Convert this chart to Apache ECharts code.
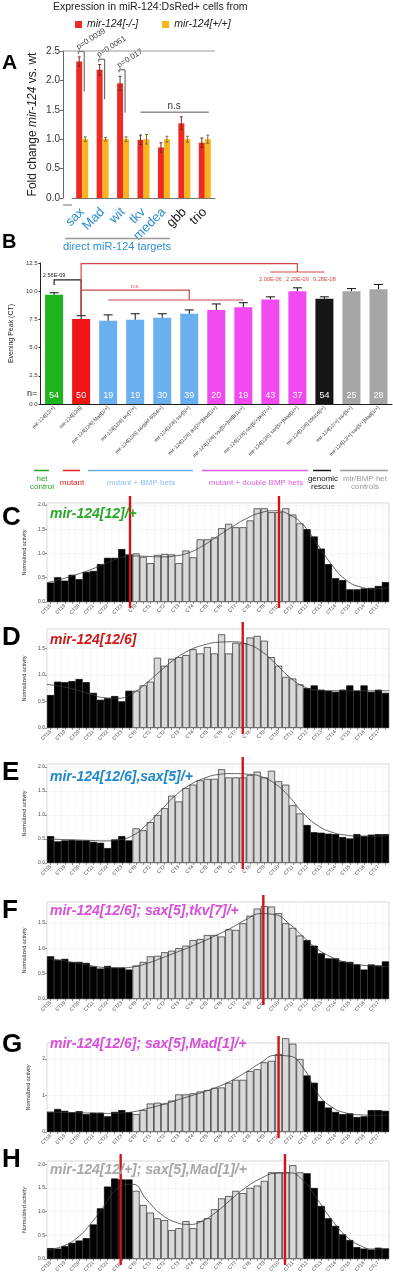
<!DOCTYPE html>
<html>
<head>
<meta charset="utf-8">
<script src="https://cdn.jsdelivr.net/npm/echarts@6/dist/echarts.min.js"></script>
<style>
html, body { margin: 0; padding: 0; background: #fff; }
#chart { width: 393px; height: 1280px; }
</style>
</head>
<body>
<div id="chart"></div>
<script>
// ---------- panel A: fold change of mir-124 targets ----------
const aGenes = ['sax', 'Mad', 'wit', 'tkv', 'medea', 'gbb', 'trio'];
const aTargets = ['sax', 'Mad', 'wit', 'tkv', 'medea'];
const aMutant = [2.32, 2.18, 1.95, 0.99, 0.86, 1.27, 0.94];
const aMutantErr = [0.08, 0.09, 0.12, 0.08, 0.08, 0.11, 0.08];
const aWild = [1.00, 1.00, 1.00, 1.00, 1.00, 1.00, 1.00];
const aWildErr = [0.04, 0.03, 0.04, 0.08, 0.05, 0.05, 0.07];
const aBrackets = [[0, 2.49, 1.81], [1, 2.36, 1.68], [2, 2.18, 1.45]];
const aPvals = ['p=0.0039', 'p=0.0061', 'p=0.017'];

// ---------- panel B: evening peak ----------
const bLabels = [
  'mir-124[12/+]', 'mir-124[12/6]', 'mir-124[12/6] Mad[1/+]', 'mir-124[12/6] tkv[7/+]',
  'mir-124[12/6] sax[def 6054/+]', 'mir-124[12/6] sax[5/+]', 'mir-124[12/6] tkv[7/+]Mad[1/+]',
  'mir-124[12/6] sax[5/+]wit[B11/+]', 'mir-124[12/6] sax[5/+]tkv[7/+]', 'mir-124[12/6] sax[5/+]Mad[1/+]',
  'mir-124[12/6] 39N16[/+]', 'mir-124[12/+] sax[5/+]', 'mir-124[12/+] sax[5/+]Mad[1/+]'
];
const bGroup = ['het', 'mut', 'bmp', 'bmp', 'bmp', 'bmp', 'dbl', 'dbl', 'dbl', 'dbl', 'res', 'ctl', 'ctl'];
const bPeak = [9.68, 7.53, 7.38, 7.47, 7.65, 8.00, 8.34, 8.57, 9.27, 10.00, 9.33, 10.00, 10.17];
const bErr = [0.18, 0.30, 0.52, 0.53, 0.35, 0.34, 0.53, 0.41, 0.23, 0.30, 0.17, 0.23, 0.43];
const bN = [54, 50, 19, 19, 30, 39, 20, 19, 43, 37, 54, 25, 28];
const bSigBlack = [[[0.04, 10.55], [0.04, 11.0], [0.93, 11.0], [0.93, 7.9]]];
const bSigRed = [
  [[1.08, 7.9], [1.08, 12.45], [9.0, 12.45], [9.0, 11.7]],
  [[7.68, 11.7], [10.2, 11.7]],
  [[1.08, 10.1], [4.52, 10.1], [4.52, 9.22]],
  [[1.72, 9.22], [7.33, 9.22]]
];
const bTextBlack = [['2.56E-09', 0.47, 11.44]];
const bTextRed = [['n.s.', 2.8, 10.45], ['2.00E-06', 7.95, 11.08], ['2.29E-09', 8.95, 11.08], ['9.28E-08', 10.05, 11.08]];

// ---------- panels C-H: activity histograms (48 half-hour bins) ----------
const ctLabels = ['CT18', 'CT19', 'CT20', 'CT21', 'CT22', 'CT23', 'CT0', 'CT1', 'CT2', 'CT3', 'CT4', 'CT5',
  'CT6', 'CT7', 'CT8', 'CT9', 'CT10', 'CT11', 'CT12', 'CT13', 'CT14', 'CT15', 'CT16', 'CT17'];
const curveX = [0, 2, 4, 6, 8, 10, 12, 14, 16, 18, 20, 22, 24, 26, 28, 30, 32, 34, 36, 38, 40, 42, 44, 46, 48];

const cBars = [0.40, 0.51, 0.44, 0.56, 0.47, 0.62, 0.64, 0.78, 0.91, 0.91, 1.09, 0.98,
  1.00, 0.93, 0.80, 0.97, 0.99, 0.98, 0.80, 1.06, 0.92, 1.29, 1.29, 1.33, 1.52, 1.61, 1.54, 1.54, 1.68, 1.93, 1.93, 1.85, 1.85, 1.93, 1.80, 1.62,
  1.50, 1.35, 1.10, 0.78, 0.49, 0.45, 0.26, 0.26, 0.28, 0.29, 0.33, 0.41];
const cCurve = [0.40, 0.47, 0.56, 0.66, 0.78, 0.90, 0.95, 0.94, 0.93, 0.95, 1.02, 1.17, 1.36,
  1.55, 1.72, 1.84, 1.88, 1.80, 1.58, 1.18, 0.76, 0.45, 0.31, 0.27, 0.30];
const cPeaks = [11.65, 32.56];

const dBars = [0.62, 0.87, 0.86, 0.88, 0.92, 0.86, 0.66, 0.53, 0.56, 0.60, 0.50, 0.70,
  0.70, 0.80, 0.87, 1.32, 1.17, 1.30, 1.33, 1.37, 1.48, 1.40, 1.52, 1.40, 1.76, 1.40, 1.60, 1.59, 1.70, 1.73, 1.64, 1.33, 1.17, 0.96, 0.93, 0.82,
  0.75, 0.80, 0.72, 0.70, 0.68, 0.72, 0.80, 0.70, 0.80, 0.68, 0.72, 0.66];
const dCurve = [0.82, 0.78, 0.72, 0.64, 0.57, 0.56, 0.65, 0.85, 1.08, 1.30, 1.46, 1.56, 1.61,
  1.62, 1.58, 1.45, 1.22, 0.96, 0.78, 0.71, 0.70, 0.70, 0.70, 0.70, 0.70];
const dPeaks = [27.47];

const eBars = [0.56, 0.45, 0.47, 0.48, 0.47, 0.47, 0.44, 0.42, 0.31, 0.49, 0.56, 0.47,
  0.72, 0.68, 0.85, 1.00, 1.14, 1.40, 1.28, 1.56, 1.63, 1.72, 1.75, 1.75, 1.95, 1.78, 1.78, 1.78, 1.83, 1.90, 1.78, 1.92, 1.70, 1.63, 1.20, 1.03,
  0.79, 0.64, 0.63, 0.61, 0.60, 0.54, 0.51, 0.60, 0.56, 0.59, 0.60, 0.60];
const eCurve = [0.50, 0.49, 0.48, 0.47, 0.46, 0.48, 0.57, 0.80, 1.10, 1.40, 1.62, 1.76, 1.84,
  1.86, 1.85, 1.80, 1.65, 1.38, 1.03, 0.78, 0.64, 0.58, 0.56, 0.56, 0.57];
const ePeaks = [27.47];

const fBars = [0.84, 0.77, 0.79, 0.73, 0.73, 0.71, 0.64, 0.60, 0.65, 0.62, 0.62, 0.58,
  0.66, 0.73, 0.84, 0.85, 0.92, 0.95, 1.00, 1.05, 1.16, 1.18, 1.26, 1.26, 1.23, 1.37, 1.36, 1.49, 1.64, 1.78, 1.83, 1.82, 1.69, 1.49, 1.40, 1.25,
  1.16, 1.05, 0.90, 0.80, 0.80, 0.74, 0.73, 0.68, 0.58, 0.68, 0.66, 0.74];
const fCurve = [0.80, 0.76, 0.71, 0.66, 0.62, 0.61, 0.63, 0.70, 0.80, 0.91, 1.02, 1.14, 1.27,
  1.41, 1.57, 1.68, 1.66, 1.48, 1.22, 0.98, 0.82, 0.72, 0.67, 0.65, 0.64];
const fPeaks = [30.36];

const gBars = [0.55, 0.63, 0.58, 0.54, 0.57, 0.49, 0.53, 0.53, 0.43, 0.55, 0.60, 0.54,
  0.49, 0.60, 0.78, 0.80, 0.78, 0.86, 1.03, 1.03, 1.06, 1.11, 1.15, 1.21, 1.22, 1.35, 1.43, 1.43, 1.67, 1.72, 1.91, 1.95, 2.14, 2.57, 2.42, 2.00,
  1.55, 1.35, 0.85, 0.67, 0.55, 0.49, 0.51, 0.41, 0.43, 0.60, 0.60, 0.58];
const gCurve = [0.55, 0.54, 0.53, 0.52, 0.51, 0.52, 0.55, 0.64, 0.74, 0.86, 0.98, 1.10, 1.24,
  1.42, 1.65, 1.90, 2.10, 2.08, 1.75, 1.05, 0.68, 0.52, 0.47, 0.46, 0.46];
const gPeaks = [32.5];

const hBars = [0.23, 0.22, 0.27, 0.34, 0.39, 0.44, 0.73, 1.07, 1.53, 1.70, 1.68, 1.68,
  1.44, 1.14, 0.98, 0.86, 0.82, 0.61, 0.65, 0.80, 0.65, 0.80, 0.86, 1.05, 1.28, 1.33, 1.44, 1.39, 1.50, 1.55, 1.65, 1.83, 1.83, 1.83, 1.98, 1.83,
  1.81, 1.50, 1.12, 0.86, 0.70, 0.52, 0.40, 0.25, 0.22, 0.20, 0.24, 0.22];
const hCurve = [0.19, 0.26, 0.42, 0.72, 1.12, 1.50, 1.58, 1.25, 0.95, 0.78, 0.73, 0.82, 1.02,
  1.28, 1.52, 1.70, 1.81, 1.82, 1.65, 1.25, 0.82, 0.48, 0.28, 0.21, 0.22];
const hPeaks = [10.34, 33.4];

const FONT = '"Liberation Sans", Arial, sans-serif';
const binLabels = ctLabels.flatMap(l => [l, '']);
const binIsDay = binLabels.map((l, i) => parseInt(ctLabels[Math.floor(i / 2)].slice(2), 10) < 12);

const groupColor = { het: '#1db41d', mut: '#f01414', bmp: '#6aaff0', dbl: '#f04af0', res: '#161616', ctl: '#a6a6a6' };

const grid = [];
const xAxis = [];
const yAxis = [];
const series = [];
const graphic = [];

function txt(x, y, text, size, color, extra) {
  graphic.push({
    type: 'text', x: x, y: y, z: 100,
    style: Object.assign({ text: text, fill: color, fontSize: size, fontFamily: FONT, verticalAlign: 'middle' }, extra || {})
  });
}
function hline(x1, x2, y, color, w) {
  graphic.push({ type: 'line', z: 100, shape: { x1: x1, y1: y, x2: x2, y2: y }, style: { stroke: color, lineWidth: w } });
}

// ===== panel A =====
grid.push({ left: 72, top: 51, width: 143, height: 147 });
xAxis.push({
  type: 'category', gridIndex: 0, data: aGenes, offset: 7,
  axisLine: { lineStyle: { color: '#777', width: 1 } },
  axisTick: { show: false },
  axisLabel: {
    rotate: 45, fontSize: 13, margin: 5, interval: 0, fontFamily: FONT,
    color: v => (aTargets.includes(v) ? '#2f8fd0' : '#222')
  }
});
yAxis.push({
  type: 'value', gridIndex: 0, min: 0, max: 2.5, interval: 0.5, offset: 9,
  axisLine: { show: true, lineStyle: { color: '#666' } },
  axisTick: { show: true, length: 3, lineStyle: { color: '#666' } },
  axisLabel: { fontSize: 10, color: '#333', margin: 3, fontFamily: FONT, formatter: v => v.toFixed(1) },
  splitLine: { show: false },
  name: 'Fold change {i|mir-124} vs. wt', nameLocation: 'middle', nameGap: 24,
  nameTextStyle: { fontSize: 12, color: '#222', fontFamily: FONT, rich: { i: { fontSize: 12, fontStyle: 'italic', color: '#222', fontFamily: FONT } } }
});
series.push({
  type: 'bar', name: 'mir-124[-/-]', xAxisIndex: 0, yAxisIndex: 0, data: aMutant,
  barWidth: 6, barGap: '0%', itemStyle: { color: '#ee2a24' }
});
series.push({
  type: 'bar', name: 'mir-124[+/+]', xAxisIndex: 0, yAxisIndex: 0, data: aWild,
  barWidth: 6, barGap: '0%', itemStyle: { color: '#f8b51c' }
});
function errSeries(xi, yi, vals, errs, off, cap, color, both) {
  return {
    type: 'custom', xAxisIndex: xi, yAxisIndex: yi, z: 5,
    data: vals.map((v, i) => [i, v, errs[i]]),
    renderItem: (params, api) => {
      const i = api.value(0), v = api.value(1), e = api.value(2);
      const top = api.coord([i, v + e]);
      const bot = api.coord([i, both ? v - e : v]);
      const x = top[0] + off;
      const st = { stroke: color, lineWidth: 1 };
      const kids = [
        { type: 'line', shape: { x1: x, y1: top[1], x2: x, y2: bot[1] }, style: st },
        { type: 'line', shape: { x1: x - cap / 2, y1: top[1], x2: x + cap / 2, y2: top[1] }, style: st }
      ];
      if (both) kids.push({ type: 'line', shape: { x1: x - cap / 2, y1: bot[1], x2: x + cap / 2, y2: bot[1] }, style: st });
      return { type: 'group', children: kids };
    }
  };
}
series.push(errSeries(0, 0, aMutant, aMutantErr, -3, 3, '#7a2b22', true));
series.push(errSeries(0, 0, aWild, aWildErr, 3, 3, '#8a6a20', true));
series.push({
  type: 'custom', xAxisIndex: 0, yAxisIndex: 0, z: 6,
  data: aBrackets,
  renderItem: (params, api) => {
    const i = api.value(0);
    const t = api.coord([i, api.value(1)]);
    const e = api.coord([i, api.value(2)]);
    const xl = t[0] - 4, xr = t[0] + 2;
    return {
      type: 'group', children: [
        { type: 'polyline', shape: { points: [[xl, t[1] + 2.5], [xl, t[1]], [xr, t[1]], [xr, e[1]]] }, style: { stroke: '#555', lineWidth: 1, fill: null } },
        { type: 'text', x: xl + 1, y: t[1] - 0.5, rotation: 32 * Math.PI / 180,
          style: { text: aPvals[params.dataIndex], fontSize: 7.8, fill: '#444', fontFamily: FONT, align: 'left', verticalAlign: 'bottom' } }
      ]
    };
  }
});
series.push({
  type: 'custom', xAxisIndex: 0, yAxisIndex: 0, z: 6,
  data: [[3, 6, 1.46]],
  renderItem: (params, api) => {
    const a = api.coord([api.value(0), api.value(2)]);
    const b = api.coord([api.value(1), api.value(2)]);
    return {
      type: 'group', children: [
        { type: 'line', shape: { x1: a[0] - 3, y1: a[1], x2: b[0] + 4, y2: a[1] }, style: { stroke: '#555', lineWidth: 1 } },
        { type: 'text', x: (a[0] + b[0]) / 2, y: a[1] - 6, style: { text: 'n.s', fontSize: 10, fill: '#333', fontFamily: FONT, align: 'center', verticalAlign: 'middle' } }
      ]
    };
  }
});
hline(63, 215, 51, '#999', 1);
hline(63, 72, 205, '#777', 1);
txt(53, 7, 'Expression in miR-124:DsRed+ cells from', 10.5, '#222');
txt(2, 63, 'A', 21, '#000', { fontWeight: 'bold' });
hline(65, 170, 238.5, '#999', 1.5);
txt(117, 247, 'direct miR-124 targets', 11, '#2f8fd0', { align: 'center' });

// ===== panel B =====
grid.push({ left: 30, top: 263, width: 362, height: 141 });
xAxis.push({
  type: 'category', gridIndex: 1, data: bLabels,
  axisLine: { lineStyle: { color: '#222', width: 1 } },
  axisTick: { show: false },
  axisLabel: { rotate: 45, fontSize: 5, interval: 0, margin: 3, color: '#333', fontFamily: FONT }
});
yAxis.push({
  type: 'value', gridIndex: 1, min: 0, max: 12.5, interval: 2.5,
  axisLine: { show: true, lineStyle: { color: '#222' } },
  axisTick: { show: true, length: 2, lineStyle: { color: '#222' } },
  axisLabel: { fontSize: 6, color: '#333', margin: 3, fontFamily: FONT, formatter: v => v.toFixed(1) },
  splitLine: { show: false },
  name: 'Evening Peak (CT)', nameLocation: 'middle', nameGap: 17,
  nameTextStyle: { fontSize: 7, color: '#222', fontFamily: FONT }
});
series.push({
  type: 'bar', xAxisIndex: 1, yAxisIndex: 1, barWidth: 18,
  data: bPeak.map((v, i) => ({ value: v, itemStyle: { color: groupColor[bGroup[i]] } })),
  label: { show: true, position: 'insideBottom', distance: 4, color: '#fff', fontSize: 9, fontFamily: FONT, formatter: p => String(bN[p.dataIndex]) }
});
series.push(errSeries(1, 1, bPeak, bErr, 0, 9, '#111', false));
function sigSeries(lines, texts, color) {
  return {
    type: 'custom', xAxisIndex: 1, yAxisIndex: 1, z: 6, data: [[0, 0]],
    renderItem: (params, api) => {
      const kids = lines.map(pts => ({
        type: 'polyline', shape: { points: pts.map(p => api.coord(p)) }, style: { stroke: color, lineWidth: 1.2, fill: null }
      }));
      texts.forEach(t => {
        const c = api.coord([t[1], t[2]]);
        kids.push({ type: 'text', x: c[0], y: c[1], style: { text: t[0], fontSize: 5.6, fill: color, fontFamily: FONT, align: 'center', verticalAlign: 'middle' } });
      });
      return { type: 'group', children: kids };
    }
  };
}
series.push(sigSeries(bSigBlack, bTextBlack, '#222'));
series.push(sigSeries(bSigRed, bTextRed, '#d04848'));
txt(2, 242, 'B', 20, '#000', { fontWeight: 'bold' });
txt(27, 394, 'n=', 9, '#222');

// group legend under B
[[34, 49, '#2aa02a'], [63, 80, '#e02020'], [88, 193, '#6aaff0'], [202, 308, '#e060e0'], [313, 331, '#111'], [340, 388, '#999']]
  .forEach(s => hline(s[0], s[1], 470.5, s[2], 1.5));
txt(42, 483, 'het\ncontrol', 8, '#2aa02a', { align: 'center', lineHeight: 8 });
txt(72, 483, 'mutant', 8, '#e02020', { align: 'center' });
txt(141, 483, 'mutant + BMP hets', 8, '#8cc0ee', { align: 'center' });
txt(256, 483, 'mutant + double BMP hets', 8, '#e060e0', { align: 'center' });
txt(323, 483, 'genomic\nrescue', 8, '#111', { align: 'center', lineHeight: 8 });
txt(365, 483, 'mir/BMP het\ncontrols', 8, '#999', { align: 'center', lineHeight: 8 });

// ===== panels C-H =====
const panels = [
  { letter: 'C', title: 'mir-124[12]/+', color: '#27a827', top: 503, height: 99, max: 2.04, interval: 0.5, bars: cBars, curve: cCurve, peaks: cPeaks, letterY: 518, titleY: 514 },
  { letter: 'D', title: 'mir-124[12/6]', color: '#cc1a1a', top: 629, height: 99, max: 1.86, interval: 0.5, bars: dBars, curve: dCurve, peaks: dPeaks, letterY: 638, titleY: 640 },
  { letter: 'E', title: 'mir-124[12/6],sax[5]/+', color: '#1e88c8', top: 764, height: 99, max: 2.06, interval: 0.5, bars: eBars, curve: eCurve, peaks: ePeaks, letterY: 773, titleY: 777 },
  { letter: 'F', title: 'mir-124[12/6]; sax[5],tkv[7]/+', color: '#d94fd9', top: 902, height: 97, max: 1.91, interval: 0.5, bars: fBars, curve: fCurve, peaks: fPeaks, letterY: 911, titleY: 911 },
  { letter: 'G', title: 'mir-124[12/6]; sax[5],Mad[1]/+', color: '#d94fd9', top: 1043, height: 89, max: 2.44, interval: 1, bars: gBars, curve: gCurve, peaks: gPeaks, letterY: 1045, titleY: 1044 },
  { letter: 'H', title: 'mir-124[12/+]; sax[5],Mad[1]/+', color: '#a8a8a8', top: 1161, height: 98, max: 2.07, interval: 0.5, bars: hBars, curve: hCurve, peaks: hPeaks, letterY: 1160, titleY: 1170 }
];

panels.forEach(p => {
  const gi = grid.length;
  grid.push({ left: 47, width: 342, top: p.top, height: p.height, show: true, borderColor: '#cccccc', borderWidth: 0.8, backgroundColor: '#fff' });
  const xc = xAxis.length;
  xAxis.push({
    type: 'category', gridIndex: gi, data: binLabels,
    axisLine: { show: false },
    axisTick: { show: true, interval: 0, alignWithLabel: true, length: 2, lineStyle: { color: '#555', width: 0.6 } },
    axisLabel: { rotate: 45, interval: 0, fontSize: 5, margin: 3, color: '#444', fontFamily: FONT },
    splitLine: { show: true, interval: 0, lineStyle: { color: '#f0f0f0', width: 0.5 } }
  });
  const xv = xAxis.length;
  xAxis.push({ type: 'value', gridIndex: gi, min: 0, max: 48, show: false });
  const yi = yAxis.length;
  yAxis.push({
    type: 'value', gridIndex: gi, min: 0, max: p.max, interval: p.interval,
    axisLine: { show: false },
    axisTick: { show: true, length: 2, lineStyle: { color: '#555', width: 0.6 } },
    axisLabel: { fontSize: 5, color: '#444', margin: 2, showMaxLabel: false, fontFamily: FONT,
      formatter: v => (p.interval < 1 ? v.toFixed(1) : String(v)) },
    splitLine: { show: true, lineStyle: { color: '#ececec', width: 0.5 } },
    name: 'Normalized activity', nameLocation: 'middle', nameGap: 12,
    nameTextStyle: { fontSize: 5.5, color: '#333', fontFamily: FONT }
  });
  series.push({
    type: 'bar', xAxisIndex: xc, yAxisIndex: yi, barCategoryGap: '0%', clip: false,
    data: p.bars.map((v, i) => ({
      value: v,
      itemStyle: binIsDay[i]
        ? { color: '#d9d9d9', borderColor: '#2a2a2a', borderWidth: 0.7 }
        : { color: '#000', borderColor: '#000', borderWidth: 0.7 }
    }))
  });
  series.push({
    type: 'line', xAxisIndex: xv, yAxisIndex: yi, z: 4, smooth: 0.5, showSymbol: false, symbol: 'none',
    lineStyle: { color: '#3a3a3a', width: 0.8 },
    data: curveX.map((x, i) => [x, p.curve[i]])
  });
  series.push({
    type: 'custom', xAxisIndex: xv, yAxisIndex: yi, z: 8,
    data: p.peaks.map(x => [x, 0]),
    renderItem: (params, api) => {
      const b = api.coord([api.value(0), 0]);
      const t = api.coord([api.value(0), p.max]);
      return { type: 'line', shape: { x1: b[0], y1: t[1] - 7, x2: b[0], y2: b[1] + 6 }, style: { stroke: '#d0141a', lineWidth: 2.4 } };
    }
  });
  txt(2, p.letterY, p.letter, 26, '#000', { fontWeight: 'bold' });
  txt(50, p.titleY, p.title, 14, p.color, { fontWeight: 'bold', fontStyle: 'italic' });
});

const chart = echarts.init(document.getElementById('chart'));
chart.setOption({
  animation: false,
  backgroundColor: '#fff',
  textStyle: { fontFamily: FONT },
  legend: {
    left: 70, top: 14, itemWidth: 7, itemHeight: 7, itemGap: 24, icon: 'rect',
    textStyle: { fontSize: 10.5, fontStyle: 'italic', color: '#222', fontFamily: FONT },
    data: ['mir-124[-/-]', 'mir-124[+/+]']
  },
  grid: grid,
  xAxis: xAxis,
  yAxis: yAxis,
  series: series,
  graphic: graphic
});
</script>
</body>
</html>
